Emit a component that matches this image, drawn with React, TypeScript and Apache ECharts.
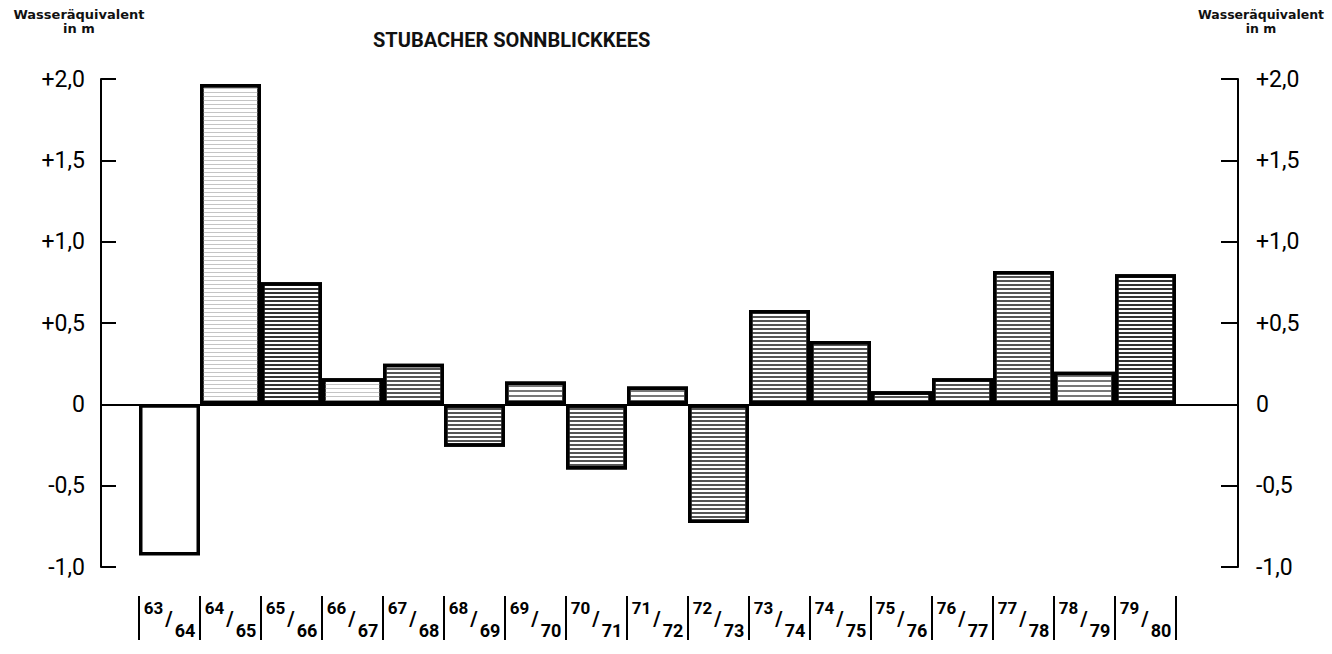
import React, { useEffect, useRef } from "react";
import * as echarts from "echarts";

const categories = ["63/64","64/65","65/66","66/67","67/68","68/69","69/70","70/71","71/72","72/73","73/74","74/75","75/76","76/77","77/78","78/79","79/80"];
const balance = [-0.93, 1.97, 0.75, 0.16, 0.25, -0.26, 0.14, -0.40, 0.11, -0.73, 0.58, 0.39, 0.08, 0.16, 0.82, 0.20, 0.80];
const yTicks = [-1.0, -0.5, 0, 0.5, 1.0, 1.5, 2.0];
const titleText = "STUBACHER SONNBLICKKEES";
const unitLine1 = "Wasseräquivalent";
const unitLine2 = "in m";

// visual hatch density per bar (style only)
const hatch = ["none","light","dense","light","medium","medium","mlight","medium","mlight","medium","medium","medium","medium","medium","medium","mlight","dense"];

const decals: Record<string, any> = {
  light: { symbol: "rect", symbolSize: 1, color: "#c4c4c4", dashArrayX: [1, 0], dashArrayY: [1, 3], rotation: 0 },
  mlight: { symbol: "rect", symbolSize: 1, color: "#777", dashArrayX: [1, 0], dashArrayY: [1.5, 2.5], rotation: 0 },
  medium: { symbol: "rect", symbolSize: 1, color: "#555", dashArrayX: [1, 0], dashArrayY: [2, 2], rotation: 0 },
  dense: { symbol: "rect", symbolSize: 1, color: "#333", dashArrayX: [1, 0], dashArrayY: [2, 1.5], rotation: 0 },
};

const fmt = (v: number) => {
  if (v === 0) return "0";
  const s = Math.abs(v).toFixed(1).replace(".", ",");
  return (v > 0 ? "+" : "-") + s;
};

export default function App() {
  const ref = useRef<HTMLDivElement>(null);
  useEffect(() => {
    if (!ref.current) return;
    const chart = echarts.init(ref.current, null, { renderer: "svg" });
    const font = "Roboto, 'DejaVu Sans', sans-serif";
    const unitFont = "'DejaVu Sans', sans-serif";
    const yMin = yTicks[0];
    const yMax = yTicks[yTicks.length - 1];
    const option: any = {
      animation: false,
      backgroundColor: "#fff",
      title: [
        {
          text: titleText,
          left: 368,
          top: 25,
          textStyle: { fontFamily: font, fontSize: 20, fontWeight: "bold", color: "#111" },
        },
      ],
      graphic: [
        { type: "text", x: 79, y: 7, style: { text: unitLine1 + "\n" + unitLine2, align: "center", fontFamily: unitFont, fontSize: 13, fontWeight: "bold", lineHeight: 14, fill: "#111" } },
        { type: "text", x: 1261, y: 7, style: { text: unitLine1 + "\n" + unitLine2, align: "center", fontFamily: unitFont, fontSize: 12.5, fontWeight: "bold", lineHeight: 14, fill: "#111" } },
      ],
      grid: [
        { left: 101, right: 94, top: 79, bottom: 87 },
        { left: 139, right: 156, top: 79, bottom: 87 },
      ],
      xAxis: [
        {
          gridIndex: 0,
          type: "value",
          min: 0,
          max: 1,
          axisLine: { show: true, onZero: true, lineStyle: { color: "#000", width: 2 } },
          axisTick: { show: false },
          axisLabel: { show: false },
          splitLine: { show: false },
        },
        {
          gridIndex: 1,
          type: "category",
          data: categories,
          position: "bottom",
          offset: 29,
          axisLine: { show: false, onZero: false },
          axisTick: { show: true, length: 44, lineStyle: { color: "#000", width: 2 } },
          splitLine: { show: false },
          axisLabel: {
            margin: 3,
            interval: 0,
            formatter: (v: string) => {
              const [a, b] = v.split("/");
              return `{a|${a}}{s|/}{b|${b}}`;
            },
            rich: {
              a: { fontFamily: font, fontSize: 17, fontWeight: "bold", color: "#000", lineHeight: 18, verticalAlign: "top" },
              s: { fontFamily: font, fontSize: 20, fontWeight: "bold", color: "#000", lineHeight: 40, verticalAlign: "middle", padding: [0, 2, 0, 2] },
              b: { fontFamily: font, fontSize: 18, fontWeight: "bold", color: "#000", lineHeight: 18, verticalAlign: "bottom" },
            },
          },
        },
      ],
      yAxis: [
        {
          gridIndex: 0,
          type: "value",
          position: "left",
          min: yMin,
          max: yMax,
          interval: 0.5,
          axisLine: { show: true, lineStyle: { color: "#000", width: 2 } },
          axisTick: { show: true, inside: true, length: 15, lineStyle: { color: "#000", width: 2 } },
          splitLine: { show: false },
          axisLabel: { margin: 16, formatter: fmt, fontFamily: font, fontSize: 23, color: "#000" },
        },
        {
          gridIndex: 0,
          type: "value",
          position: "right",
          min: yMin,
          max: yMax,
          interval: 0.5,
          axisLine: { show: true, lineStyle: { color: "#000", width: 2 } },
          axisTick: { show: true, inside: true, length: 17, lineStyle: { color: "#000", width: 2 } },
          splitLine: { show: false },
          axisLabel: { margin: 18, formatter: fmt, fontFamily: font, fontSize: 23, color: "#000" },
        },
        {
          gridIndex: 1,
          type: "value",
          min: yMin,
          max: yMax,
          show: false,
          splitLine: { show: false },
        },
      ],
      series: [
        {
          type: "bar",
          xAxisIndex: 1,
          yAxisIndex: 2,
          barCategoryGap: "0%",
          data: balance.map((v, i) => ({
            value: v,
            itemStyle: hatch[i] === "none" ? { color: "#fff" } : { color: "#fff", decal: decals[hatch[i]] },
          })),
          itemStyle: { color: "#fff", borderColor: "#000", borderWidth: 3.5 },
        },
      ],
    };
    chart.setOption(option);
    return () => chart.dispose();
  }, []);
  return <div ref={ref} style={{ position: "fixed", left: 0, top: 0, width: 1332, height: 654, background: "#fff" }} />;
}
